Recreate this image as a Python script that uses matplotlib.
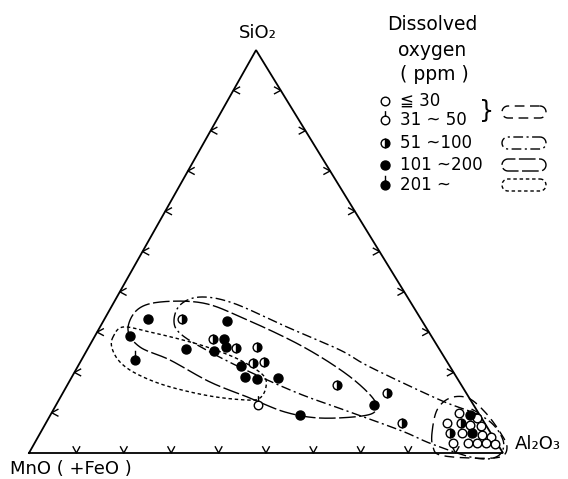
import numpy as np
import matplotlib.pyplot as plt
from matplotlib.path import Path

plt.rcParams['font.family'] = ['DejaVu Sans', 'Noto Sans CJK JP']

# compositions: SiO2 %, Al2O3 %  (MnO(+FeO) is the rest)
o30_si = [9.9, 8.7, 7.4, 7.0, 6.7, 5.0, 4.5, 4.0, 2.5, 2.5, 2.5, 2.5, 2.2]
o30_al = [86.0, 90.3, 84.6, 89.7, 92.2, 89.0, 93.4, 95.6, 88.3, 91.5, 93.3, 95.2, 97.2]

o50_si = [11.9]
o50_al = [42.6]

h100_si = [33.2, 28.3, 26.0, 26.2, 22.3, 22.7, 16.8, 14.8, 7.5, 7.4, 5.0]
h100_al = [16.3, 25.3, 31.2, 35.5, 36.5, 38.7, 56.9, 68.4, 75.0, 87.6, 86.4]

b200_si = [33.2, 32.8, 25.7, 28.3, 26.2, 25.4, 21.6, 18.8, 18.4, 18.7, 9.4, 11.9, 29.0, 9.4, 5.0]
b200_al = [9.3, 26.0, 20.8, 27.6, 29.0, 26.9, 34.4, 36.6, 39.2, 43.5, 52.7, 67.1, 7.4, 88.5, 91.1]

s201_si = [23.1]
s201_al = [11.3]

# outlines of the grouping loops (control points, SiO2 %, Al2O3 %)
loop_o_si = [4.96, 10.67, 13.65, 13.65, 10.17, 5.21, 1.49, -0.99, -1.24, -0.50, 1.49]
loop_o_al = [82.64, 80.97, 82.28, 86.08, 91.33, 96.87, 100.13, 99.84, 93.63, 86.95, 84.52]

loop_h_si = [32.51, 36.72, 38.71, 37.22, 31.27, 25.56, 21.34, 13.15, 8.68, 3.23, -0.74,
             -1.24, 2.23, 5.46, 10.17, 14.64, 20.10, 25.06, 29.28]
loop_h_al = [15.02, 14.27, 17.54, 25.21, 39.45, 53.37, 61.72, 80.41, 92.04, 98.45, 99.30,
             94.68, 83.95, 76.07, 62.85, 50.16, 36.99, 26.19, 18.25]

loop_b_si = [30.52, 35.48, 37.47, 37.22, 33.50, 26.80, 19.85, 13.90, 10.67, 9.18, 8.68,
             10.17, 13.65, 17.62, 23.08, 26.30]
loop_b_al = [6.27, 5.78, 9.69, 18.88, 29.10, 44.33, 57.16, 65.70, 68.10, 65.85, 57.23,
             49.14, 40.08, 29.75, 18.69, 10.82]

loop_s_si = [28.78, 31.27, 30.02, 28.04, 26.05, 23.08, 19.35, 16.38, 13.65, 13.15, 14.14,
             16.63, 19.60, 22.58, 26.05]
loop_s_al = [3.93, 4.85, 11.15, 19.06, 25.71, 33.45, 40.10, 42.15, 42.19, 39.69, 31.42,
             21.14, 13.39, 8.38, 5.03]

legend_labels = ['\u2266 30', '31 ~ 50', '51 ~100', '101 ~200', '201 ~']
ticks = np.arange(10, 100, 10)

TOP = (0.479, 0.850)   # SiO2 apex, MnO at (0,0), Al2O3 at (1,0)


def tern(si, al):
    si = np.asarray(si, float) / 100
    al = np.asarray(al, float) / 100
    return al + si * TOP[0], si * TOP[1]


def closed_curve(x, y, n=24):
    P = np.column_stack([x, y])
    m = len(P)
    t = np.linspace(0, 1, n, endpoint=False)[:, None]
    out = []
    for i in range(m):
        p0, p1, p2, p3 = P[i - 1], P[i], P[(i + 1) % m], P[(i + 2) % m]
        out.append(0.5 * (2 * p1 + (p2 - p0) * t + (2 * p0 - 5 * p1 + 4 * p2 - p3) * t ** 2
                          + (3 * p1 - p0 - 3 * p2 + p3) * t ** 3))
    out.append(P[:1])
    out = np.vstack(out)
    return out[:, 0], out[:, 1]


stem = Path.make_compound_path(Path.unit_circle(),
                               Path([[0, 1], [0, 2.2]], [Path.MOVETO, Path.LINETO]))

styles = {
    'o': dict(marker='o', ms=6.2, mfc='white', mec='black', mew=1.0),
    'o50': dict(marker=stem, ms=13.5, mfc='white', mec='black', mew=1.0),
    'h': dict(marker='o', ms=6.3, mfc='black', mfcalt='white', fillstyle='right',
              mec='black', mew=1.0),
    'b': dict(marker='o', ms=6.5, mfc='black', mec='black', mew=1.0),
    's': dict(marker=stem, ms=14, mfc='black', mec='black', mew=1.0),
}
dashes = {
    'o': (0, (7, 4)),
    'h': (0, (7, 2.5, 1.5, 2.5)),
    'b': (0, (12, 2.5)),
    's': (0, (2.5, 2)),
}

fig = plt.figure(figsize=(5.68, 4.79), dpi=100)
ax = fig.add_axes([0, 0, 1, 1])
ax.set_xlim(-29 / 474, 539 / 474)
ax.set_ylim(-26 / 474, 453 / 474)
ax.axis('off')

# triangle
tx, ty = tern([0, 0, 100, 0], [0, 100, 0, 0])
ax.plot(tx, ty, color='black', lw=1.3, solid_joinstyle='miter', zorder=3)

# chevron ticks
a, b = 0.013, 0.007
for t in ticks:
    x, y = tern(0, t)
    ax.plot([x - b, x, x + b], [y + a, y, y + a], color='black', lw=1.0)
    x, y = tern(t, 0)
    ax.plot([x + a, x, x + a], [y + b, y, y - b], color='black', lw=1.0)
    x, y = tern(t, 100 - t)
    ax.plot([x - a, x, x - a], [y + b, y, y - b], color='black', lw=1.0)

# loops
for key, si, al in [('o', loop_o_si, loop_o_al), ('h', loop_h_si, loop_h_al),
                    ('b', loop_b_si, loop_b_al), ('s', loop_s_si, loop_s_al)]:
    x, y = tern(si, al)
    cx, cy = closed_curve(x, y)
    ax.plot(cx, cy, color='black', lw=1.0, ls=dashes[key], zorder=2)

# samples
for key, si, al in [('o', o30_si, o30_al), ('o50', o50_si, o50_al),
                    ('h', h100_si, h100_al), ('b', b200_si, b200_al),
                    ('s', s201_si, s201_al)]:
    x, y = tern(si, al)
    ax.plot(x, y, ls='none', zorder=4, **styles[key])

# corner labels
W, H = 568, 479
fig.text(258 / W, 1 - 33 / H, 'SiO\u2082', ha='center', va='center', fontsize=13)
fig.text(10 / W, 1 - 469 / H, 'MnO ( +FeO )', ha='left', va='center', fontsize=13)
fig.text(515 / W, 1 - 444 / H, 'Al\u2082O\u2083', ha='left', va='center', fontsize=13)

# legend
fig.text(432 / W, 1 - 25 / H, 'Dissolved', ha='center', va='center', fontsize=13.5)
fig.text(432 / W, 1 - 50 / H, 'oxygen', ha='center', va='center', fontsize=13.5)
fig.text(434 / W, 1 - 74 / H, '( ppm )', ha='center', va='center', fontsize=13.5)

rows = [101, 120, 143, 165, 185]
for key, lab, ry in zip(['o', 'o50', 'h', 'b', 's'], legend_labels, rows):
    ax.plot([385 / W], [1 - ry / H], ls='none', transform=fig.transFigure, **styles[key])
    fig.text(400 / W, 1 - ry / H, lab, ha='left', va='center', fontsize=12)

fig.text(487 / W, 1 - 111 / H, '}', ha='center', va='center', fontsize=17)


def stadium(cx, cy, w=44, h=12):
    r = h / 2
    ang = np.linspace(-np.pi / 2, np.pi / 2, 20)
    right = np.column_stack([cx + w / 2 - r + r * np.cos(ang), cy + r * np.sin(ang)])
    left = np.column_stack([cx - w / 2 + r - r * np.cos(ang), cy - r * np.sin(ang)])
    pts = np.vstack([right, left, right[:1]])
    return pts[:, 0] / W, 1 - pts[:, 1] / H


for key, ry in zip(['o', 'h', 'b', 's'], [112, 143, 165, 185]):
    sx, sy = stadium(524, ry)
    ax.plot(sx, sy, color='black', lw=1.0, ls=dashes[key], transform=fig.transFigure)

fig.savefig('out.png', dpi=100, facecolor='white')
